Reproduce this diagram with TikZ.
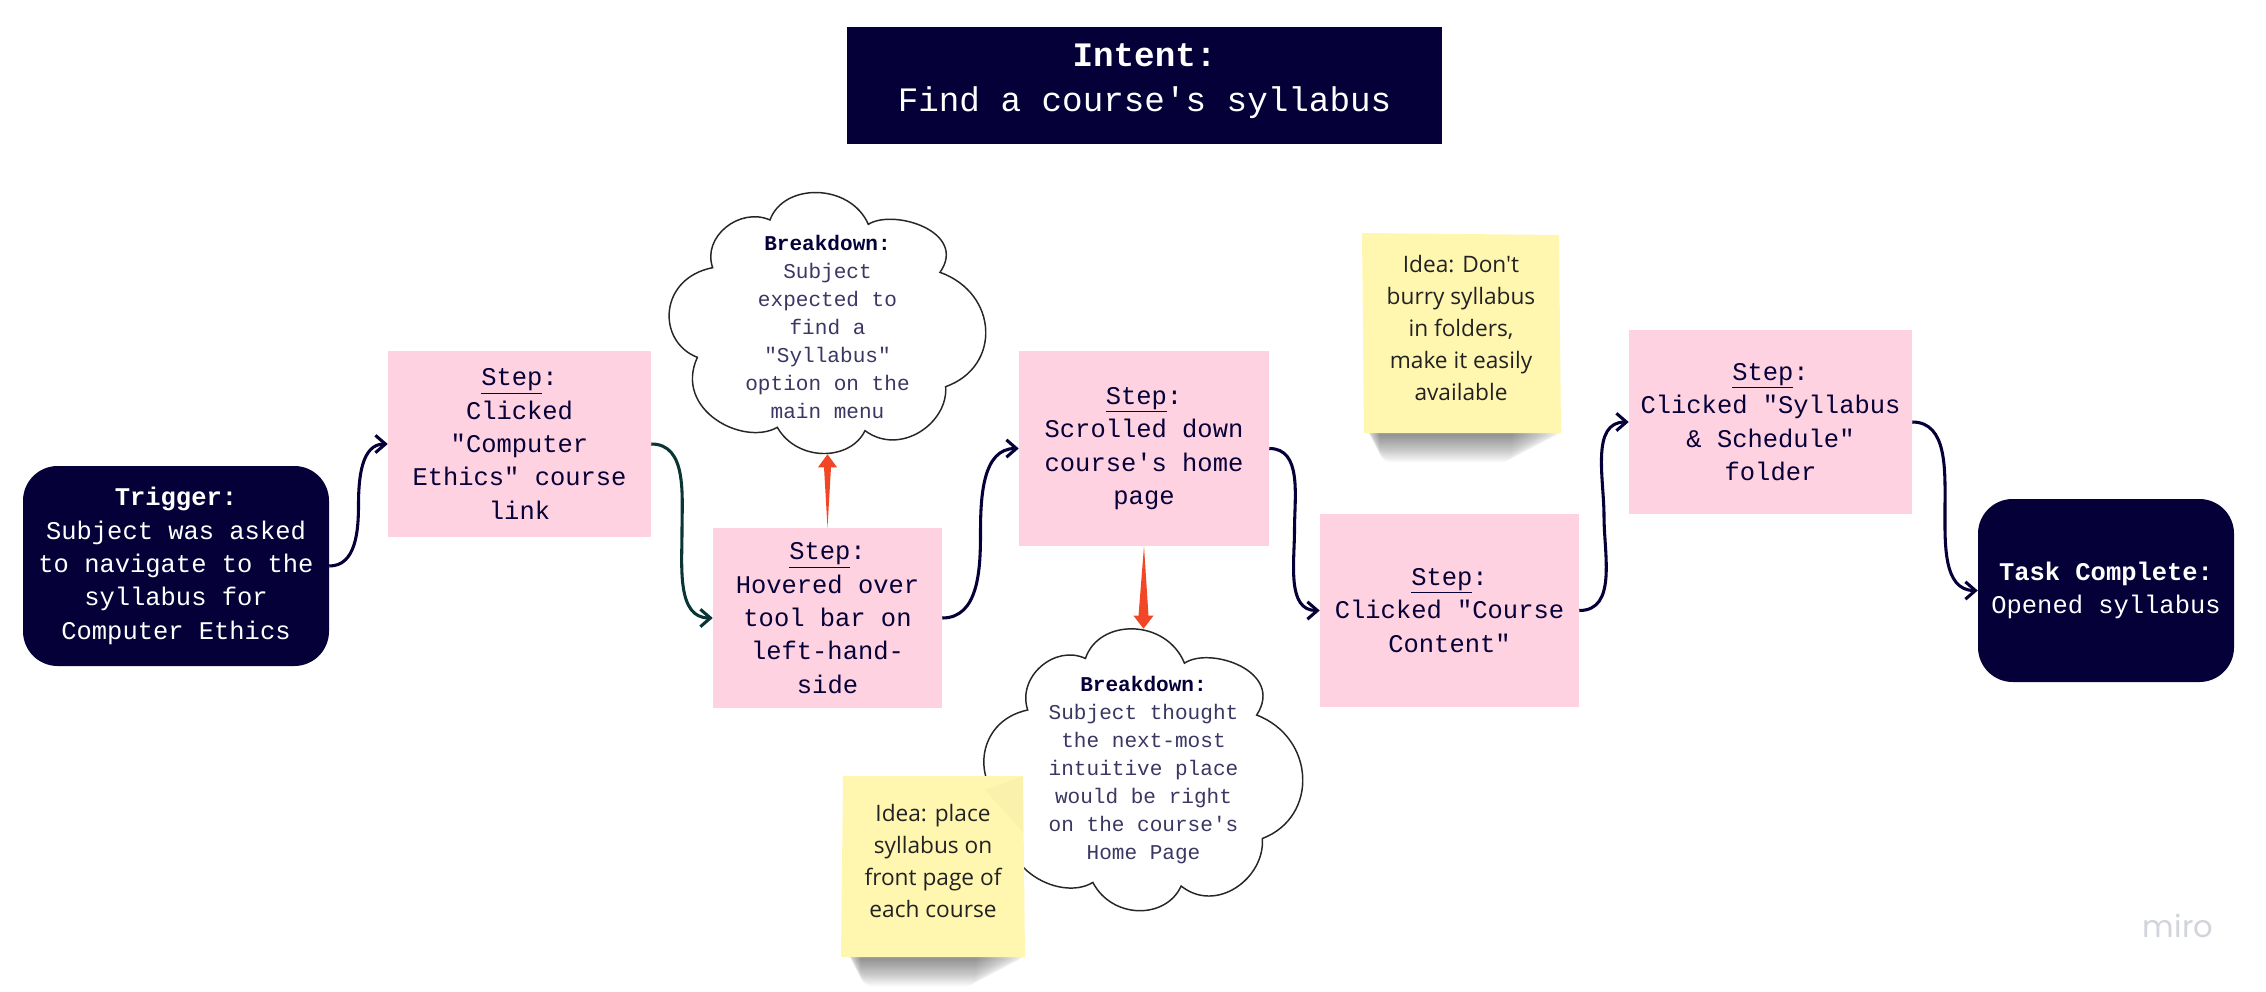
\documentclass[tikz,border=0pt]{standalone}
\usepackage{fontspec}
\newfontfamily\stickyfont{Open Sans}
\newfontfamily\mirofont{Poppins}
\setmonofont{Liberation Mono}
\usetikzlibrary{arrows.meta,calc}
\definecolor{navy}{HTML}{050038}
\definecolor{pinkbox}{HTML}{FFD2E1}
\definecolor{stickyy}{HTML}{FFF6B0}
\definecolor{redarrow}{HTML}{F24726}
\definecolor{tealline}{HTML}{0B3535}
\definecolor{cloudtext}{HTML}{3A3763}
\definecolor{stickytext}{HTML}{222222}
\definecolor{mirogray}{HTML}{D2D4DC}
\tikzset{
  x=0.75pt,y=0.75pt,
  stepbox/.style={fill=pinkbox,draw=none,inner sep=0pt,align=center,text=navy,
    font=\ttfamily\fontsize{19.1}{25}\selectfont},
  darkbox/.style={fill=navy,draw=none,inner sep=0pt,align=center,text=white,rounded corners=26pt,
    font=\ttfamily\fontsize{19.1}{25}\selectfont},
  titlebox/.style={fill=navy,draw=none,inner sep=0pt,align=center,text=white,
    font=\ttfamily\fontsize{25.7}{34}\selectfont},
  cloudnode/.style={inner sep=0pt,align=center,text=cloudtext,
    font=\ttfamily\fontsize{15.8}{21}\selectfont},
  stickylabel/.style={inner sep=0pt,align=center,text=stickytext,
    font=\stickyfont\fontsize{17}{24}\selectfont},
  stickypaper/.style={fill=stickyy,draw=none},
  cloudline/.style={fill=white,draw=black!85,line width=1.1pt},
  redtip/.style={fill=redarrow,draw=none},
}
\newcommand{\cloudshape}{%
  (390,150) .. controls (430,38) and (630,38) .. (685,163)
  .. controls (760,115) and (985,185) .. (900,307)
  .. controls (1075,370) and (1085,590) .. (917,650)
  .. controls (925,760) and (780,860) .. (675,782)
  .. controls (630,875) and (470,875) .. (412,772)
  .. controls (310,830) and (100,720) .. (172,562)
  .. controls (50,515) and (55,325) .. (218,293)
  .. controls (185,200) and (300,110) .. (390,150) -- cycle}
\newcommand{\softshadow}[4]{% x1 x2 ytop ybottom
  \foreach \k in {0,...,23}{
    \fill[black,opacity=0.02,rounded corners=8pt]
      ({#1+0.6*\k-6},{-#3+10}) rectangle ({#2-2.2*\k+5},{-#4-1.15*\k});
  }}
\begin{document}
\begin{tikzpicture}
\useasboundingbox (0,0) rectangle (2266,-992);
\fill[white] (0,0) rectangle (2266,-992);

% title
\node[titlebox,minimum width=595*0.75pt,minimum height=117*0.75pt] (intent) at (1144.5,-85.5)
  {\textbf{Intent:}\\Find a course's syllabus\\[-22pt]};

% process boxes
\node[darkbox,minimum width=306*0.75pt,minimum height=200*0.75pt] (trigger) at (176,-566)
  {\textbf{Trigger:}\\Subject was asked\\to navigate to the\\syllabus for\\Computer Ethics};
\node[stepbox,minimum width=263*0.75pt,minimum height=186*0.75pt] (sa) at (519.5,-444)
  {\underline{Step}:\\Clicked\\"Computer\\Ethics" course\\link};
\node[stepbox,minimum width=229*0.75pt,minimum height=180*0.75pt] (sb) at (827.5,-618)
  {\underline{Step}:\\Hovered over\\tool bar on\\left-hand-\\side};
\node[stepbox,minimum width=250*0.75pt,minimum height=195*0.75pt] (sc) at (1144,-448.5)
  {\underline{Step}:\\Scrolled down\\course's home\\page};
\node[stepbox,minimum width=259*0.75pt,minimum height=193*0.75pt] (sd) at (1449.5,-610.5)
  {\underline{Step}:\\Clicked "Course\\Content"};
\node[stepbox,minimum width=283*0.75pt,minimum height=184*0.75pt] (se) at (1770.5,-422)
  {\underline{Step}:\\Clicked "Syllabus\\\& Schedule"\\folder};
\node[darkbox,minimum width=256*0.75pt,minimum height=183*0.75pt] (done) at (2106,-590.5)
  {\textbf{Task Complete:}\\Opened syllabus};

% clouds
\begin{scope}[shift={(640,-170)},x=0.25pt,y=-0.25pt]
  \draw[cloudline] \cloudshape;
\end{scope}
\node[cloudnode,minimum width=320*0.75pt,minimum height=254*0.75pt] (ca) at (827.5,-327)
  {\textcolor{navy}{\textbf{Breakdown:}}\\Subject\\expected to\\find a\\"Syllabus"\\option on the\\main menu};
\begin{scope}[shift={(954.5,-604.5)},x=0.2518pt,y=-0.27pt]
  \draw[cloudline] \cloudshape;
\end{scope}
\node[cloudnode,minimum width=320*0.75pt,minimum height=283*0.75pt] (cb) at (1143.5,-770.5)
  {\textcolor{navy}{\textbf{Breakdown:}}\\Subject thought\\the next-most\\intuitive place\\would be right\\on the course's\\Home Page};

% connectors
\foreach \a/\b/\c in {trigger/sa/navy,sa/sb/tealline,sb/sc/navy,sc/sd/navy,sd/se/navy,se/done/navy}{
  \coordinate (mid) at ($(\a.east)!0.5!(\b.west)$);
  \draw[line width=2.3pt,draw=\c,-{Straight Barb[length=7.5pt,width=13pt,line width=2.3pt,color=\c]}]
    let \p1=(\a.east),\p2=(\b.west),\n1={ifthenelse(\y2>\y1,90,-90)},\n2={ifthenelse(\y2>\y1,-90,90)} in
    (\a.east) to[out=0,in=\n2] (mid) to[out=\n1,in=180] (\b.west);
}

% red arrows
\fill[redtip] (sb.north) -- ($(ca.south)+(3.5,-13)$) -- ($(ca.south)+(9.5,-13)$) -- (ca.south)
  -- ($(ca.south)+(-9.5,-13)$) -- ($(ca.south)+(-3.5,-13)$) -- cycle;
\fill[redtip] (sc.south) -- ($(cb.north)+(5,13)$) -- ($(cb.north)+(10,13)$) -- (cb.north)
  -- ($(cb.north)+(-10,13)$) -- ($(cb.north)+(-5,13)$) -- cycle;

% sticky notes
\softshadow{853}{1022}{957}{960}
\fill[stickypaper] (843,-776) -- (1023,-776) -- (1025,-957) -- (841,-957) -- cycle;
\fill[black!20!stickyy,opacity=0.1] (1023,-776) -- (1023,-832) -- (985,-790) -- cycle;
\node[stickylabel] (ideaa) at (933,-861)
  {Idea: place\\syllabus on\\front page of\\each course};
\softshadow{1372}{1558}{433}{436}
\fill[stickypaper] (1362,-233) -- (1559,-235) -- (1561,-433) -- (1364,-433) -- cycle;
\node[stickylabel] (ideab) at (1461,-328)
  {Idea: Don't\\burry syllabus\\in folders,\\make it easily\\available};

% watermark
\node[inner sep=0pt,text=mirogray,font=\mirofont\fontsize{23}{26}\selectfont] (miro) at (2178,-926) {miro};
\end{tikzpicture}
\end{document}
